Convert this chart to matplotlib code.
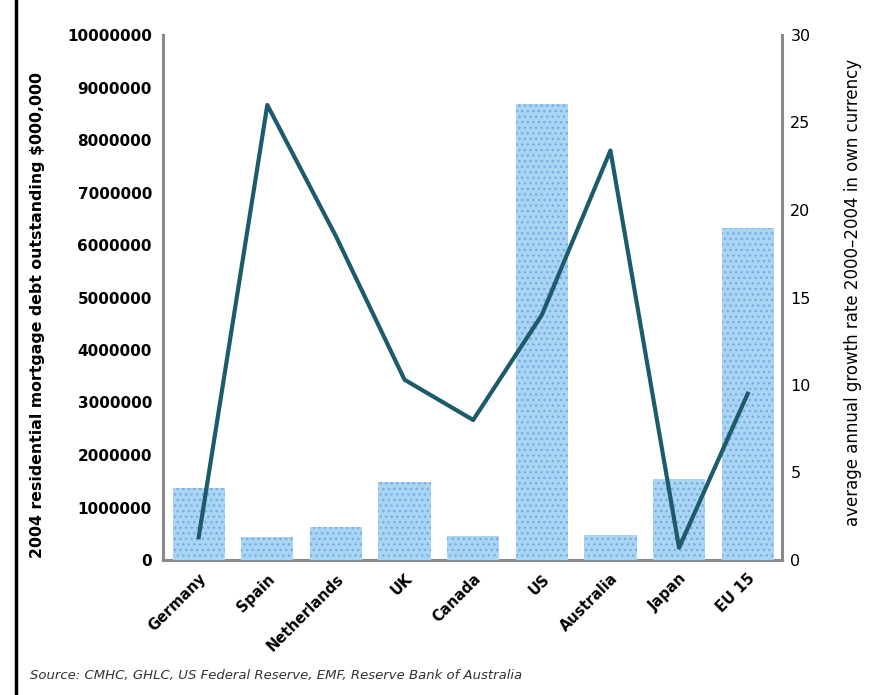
import matplotlib.pyplot as plt
import numpy as np

countries = ["Germany", "Spain", "Netherlands", "UK", "Canada", "US",
             "Australia", "Japan", "EU 15"]
debt = [1370000, 440000, 630000, 1490000, 460000, 8690000, 480000, 1540000, 6320000]
growth = [1.3, 26.0, 18.5, 10.3, 8.0, 14.0, 23.4, 0.7, 9.5]

left_ticks = np.arange(0, 10000001, 1000000)
right_ticks = np.arange(0, 31, 5)

fig = plt.figure(figsize=(8.87, 6.95), dpi=100)
ax = fig.add_axes([163 / 887, 1 - 560 / 695, (782 - 163) / 887, (560 - 35) / 695])
x = np.arange(len(countries))

# dotted blue bars for debt outstanding, drawn over the baseline
ax.bar(x, debt, width=0.76, color="#a9d5f5", edgecolor="#7fa8e0", hatch="...",
       linewidth=0, zorder=3)
ax.set_xlim(-0.52, 8.5)
ax.set_ylim(0, 10000000)
ax.set_yticks(left_ticks)
ax.set_yticklabels([str(v) for v in left_ticks], fontsize=11, fontweight="bold")
ax.set_xticks(x)
ax.set_xticklabels(countries, rotation=45, ha="right", rotation_mode="anchor",
                   fontsize=10.5, fontweight="bold")
ax.tick_params(length=0, pad=8)
ax.set_ylabel("2004 residential mortgage debt outstanding $000,000",
              fontsize=11.3, fontweight="bold")
ax.yaxis.set_label_coords(-0.19, 0.467)

# growth-rate line on secondary axis
ax2 = ax.twinx()
ax2.plot(x, growth, color="#1d5a6c", linewidth=3, zorder=3)
ax2.set_ylim(0, 30)
ax2.set_yticks(right_ticks)
ax2.set_yticklabels([str(v) for v in right_ticks], fontsize=11.5)
ax2.tick_params(length=0, pad=6)
ax2.set_ylabel("average annual growth rate 2000\u20132004 in own currency",
               fontsize=12, rotation=90)
ax2.yaxis.set_label_coords(1.1, 0.51)

for a in (ax, ax2):
    a.spines["top"].set_visible(False)
    for side in ("left", "right", "bottom"):
        a.spines[side].set_color("#8a8a8a")
        a.spines[side].set_linewidth(2.2)
ax.spines["right"].set_visible(False)
ax2.spines["left"].set_visible(False)
ax2.spines["bottom"].set_visible(False)

# black frame line on the left edge
fig.add_artist(plt.Line2D([16 / 887, 16 / 887], [0, 1], color="black",
                          linewidth=2.5, transform=fig.transFigure))

fig.text(30 / 887, 1 - 676 / 695,
         "Source: CMHC, GHLC, US Federal Reserve, EMF, Reserve Bank of Australia",
         fontsize=9.5, style="italic", color="#333333", va="center")

fig.savefig("out.png", dpi=100)
